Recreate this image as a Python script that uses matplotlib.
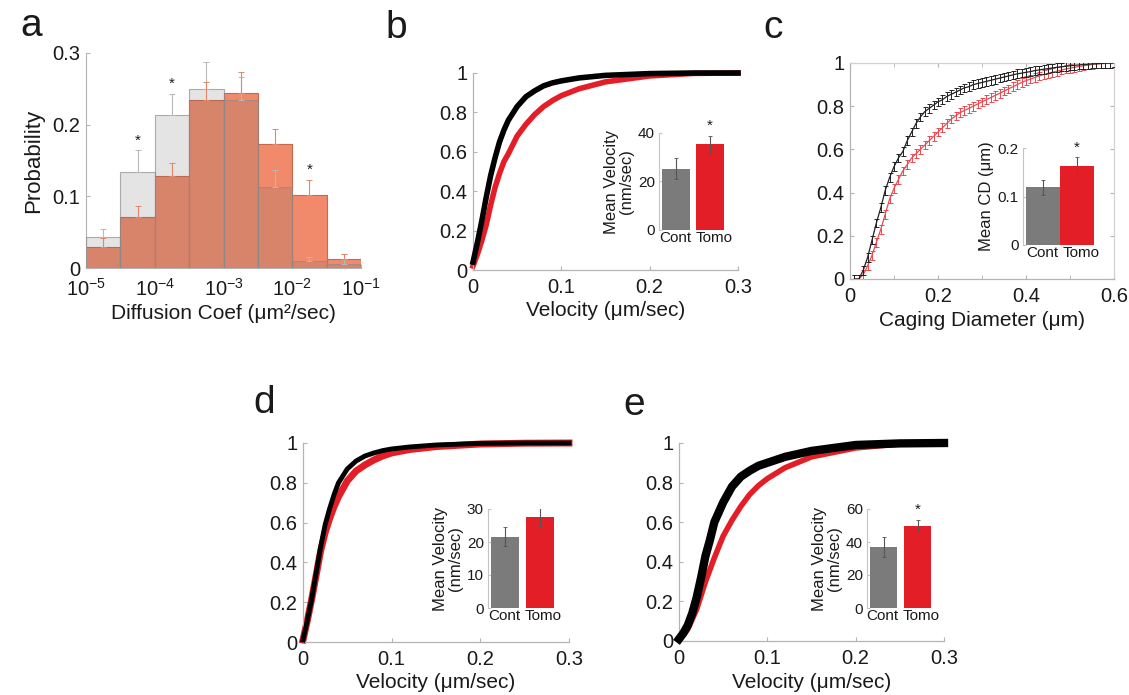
import numpy as np
import matplotlib
matplotlib.use('Agg')
import matplotlib.pyplot as plt

plt.rcParams['font.family'] = ['Liberation Sans', 'DejaVu Sans']
plt.rcParams['mathtext.fontset'] = 'custom'
plt.rcParams['mathtext.rm'] = 'Liberation Sans'
plt.rcParams['mathtext.it'] = 'Liberation Sans:italic'
plt.rcParams['mathtext.bf'] = 'Liberation Sans:bold'

# ---------------- data ----------------
# panel a: histogram of diffusion coefficients (half-decade bins)
a_bin_exp = [-5, -4.5, -4, -3.5, -3, -2.5, -2, -1.5, -1]
a_cont = [0.043, 0.134, 0.213, 0.250, 0.235, 0.113, 0.010, 0.006]
a_cont_err = [0.011, 0.030, 0.030, 0.038, 0.031, 0.024, 0.006, 0.006]
a_tomo = [0.030, 0.071, 0.129, 0.235, 0.244, 0.173, 0.102, 0.013]
a_tomo_err = [0.012, 0.016, 0.017, 0.025, 0.030, 0.021, 0.021, 0.007]
a_star = [False, True, True, False, False, False, True, False]
a_xtick_exp = [-5, -4, -3, -2, -1]

# velocity CDFs (panels b, d, e)
vel_x = [0, 0.005, 0.01, 0.015, 0.02, 0.025, 0.03, 0.035, 0.04, 0.05,
         0.06, 0.07, 0.08, 0.09, 0.1, 0.12, 0.15, 0.2, 0.25, 0.3]
b_cont = [0.04, 0.14, 0.25, 0.37, 0.48, 0.57, 0.65, 0.71, 0.76, 0.83,
          0.88, 0.91, 0.935, 0.95, 0.96, 0.975, 0.988, 0.997, 1.0, 1.0]
b_tomo = [0.02, 0.08, 0.15, 0.23, 0.33, 0.42, 0.49, 0.55, 0.59, 0.68,
          0.74, 0.79, 0.83, 0.86, 0.885, 0.92, 0.955, 0.985, 0.998, 1.0]
d_cont = [0.01, 0.11, 0.22, 0.35, 0.48, 0.59, 0.67, 0.74, 0.80, 0.87,
          0.91, 0.935, 0.95, 0.962, 0.97, 0.98, 0.99, 0.998, 1.0, 1.0]
d_tomo = [0.01, 0.11, 0.22, 0.34, 0.46, 0.55, 0.62, 0.68, 0.73, 0.81,
          0.86, 0.89, 0.915, 0.935, 0.95, 0.967, 0.982, 0.995, 0.999, 1.0]
e_cont = [0.01, 0.04, 0.08, 0.14, 0.22, 0.32, 0.43, 0.51, 0.60, 0.70,
          0.78, 0.83, 0.86, 0.885, 0.90, 0.93, 0.96, 0.99, 0.998, 1.0]
e_tomo = [0.01, 0.03, 0.06, 0.11, 0.16, 0.23, 0.30, 0.36, 0.42, 0.53,
          0.61, 0.68, 0.74, 0.785, 0.82, 0.875, 0.93, 0.975, 0.995, 1.0]

# caging diameter CDF (panel c)
cd_x = [0.01, 0.02, 0.03, 0.04, 0.05, 0.06, 0.07, 0.08, 0.09, 0.10,
        0.11, 0.12, 0.13, 0.14, 0.15, 0.16, 0.17, 0.18, 0.19, 0.20,
        0.21, 0.22, 0.23, 0.24, 0.25, 0.26, 0.27, 0.28, 0.29, 0.30,
        0.31, 0.32, 0.33, 0.34, 0.35, 0.36, 0.37, 0.38, 0.39, 0.40,
        0.41, 0.42, 0.43, 0.44, 0.45, 0.46, 0.47, 0.48, 0.49, 0.50,
        0.51, 0.52, 0.53, 0.54, 0.55, 0.56, 0.57, 0.58, 0.59, 0.60]
c_cont = [0.0, 0.0, 0.04, 0.10, 0.18, 0.26, 0.33, 0.41, 0.47, 0.52,
          0.56, 0.59, 0.64, 0.68, 0.72, 0.75, 0.775, 0.79, 0.805, 0.82,
          0.83, 0.845, 0.855, 0.865, 0.875, 0.885, 0.89, 0.90, 0.905, 0.91,
          0.915, 0.92, 0.925, 0.93, 0.935, 0.94, 0.945, 0.95, 0.953, 0.957,
          0.96, 0.965, 0.968, 0.971, 0.974, 0.977, 0.98, 0.982, 0.985, 0.987,
          0.989, 0.991, 0.993, 0.994, 0.996, 0.997, 0.998, 0.999, 0.999, 1.0]
c_tomo = [0.0, 0.0, 0.02, 0.06, 0.11, 0.17, 0.23, 0.30, 0.37, 0.42,
          0.46, 0.50, 0.53, 0.56, 0.58, 0.60, 0.62, 0.64, 0.66, 0.68,
          0.70, 0.72, 0.74, 0.755, 0.77, 0.78, 0.79, 0.80, 0.81, 0.82,
          0.83, 0.84, 0.85, 0.86, 0.87, 0.88, 0.89, 0.90, 0.91, 0.918,
          0.926, 0.933, 0.94, 0.946, 0.952, 0.957, 0.962, 0.967, 0.972, 0.976,
          0.98, 0.984, 0.987, 0.99, 0.993, 0.995, 0.997, 0.998, 0.999, 1.0]
c_err = 0.02

# inset bar charts
groups = ['Cont', 'Tomo']
b_bar = [25.3, 35.4]
b_bar_err = [4.2, 3.5]
c_bar = [0.119, 0.163]
c_bar_err = [0.015, 0.018]
d_bar = [21.6, 27.6]
d_bar_err = [2.8, 2.7]
e_bar = [36.8, 50.0]
e_bar_err = [6.0, 3.5]

# ---------------- style ----------------
W, H = 1129, 695
fig = plt.figure(figsize=(W / 100, H / 100), dpi=100)

SPINE = '#b4b4b4'
TXT = '#1a1a1a'
BLACK = '#000000'
RED = '#e41e26'
GREY_BAR = '#7b7b7b'
TICK_FS = 14.5
LABEL_FS = 15


def px_axes(l, r, t, b):
    return fig.add_axes([l / W, 1 - b / H, (r - l) / W, (b - t) / H])


def style_main(ax, box=False):
    for s in ['top', 'right']:
        ax.spines[s].set_visible(box)
    for s in ax.spines.values():
        s.set_color('#d2d2d2')
        s.set_linewidth(0.9)
    ax.spines['left'].set_color(SPINE)
    ax.spines['bottom'].set_color(SPINE)
    ax.tick_params(direction='in', length=3, color=SPINE, labelcolor=TXT,
                   labelsize=TICK_FS, pad=4, top=box, right=box)
    ax.tick_params(axis='x', pad=6)


def fmt(v):
    return ('%g' % v)


def cdf_panel(ax, x, y1, y2, lw1, lw2):
    ax.plot(x, y1, color=BLACK, lw=lw1, clip_on=False, zorder=3)
    ax.plot(x, y2, color=RED, lw=lw2, clip_on=False, zorder=2)
    ax.set_xlim(0, 0.3)
    ax.set_ylim(0, 1)
    xt = [0, 0.1, 0.2, 0.3]
    yt = [0, 0.2, 0.4, 0.6, 0.8, 1]
    ax.set_xticks(xt)
    ax.set_xticklabels([fmt(v) for v in xt])
    ax.set_yticks(yt)
    ax.set_yticklabels([fmt(v) for v in yt])
    ax.set_xlabel('Velocity (μm/sec)', fontsize=LABEL_FS, color=TXT,
                  labelpad=3)
    style_main(ax)


def inset(rect_px, vals, errs, ymax, yticks, width, star, ylabel):
    l, r, t, b = rect_px
    ax = px_axes(l, r, t, b)
    pos = [1, 2]
    ax.bar(pos, vals, width=width, color=[GREY_BAR, RED], edgecolor='none',
           zorder=2)
    ax.errorbar(pos, vals, yerr=errs, fmt='none', ecolor='#555555',
                elinewidth=0.8, capsize=1.5, capthick=0.6, zorder=3)
    if star:
        ax.text(2, vals[1] + errs[1] + ymax * 0.03, '*', ha='center',
                va='bottom', fontsize=11, color=TXT)
    ax.set_xlim(1 - width / 2 - 0.1, 2 + width / 2)
    ax.set_ylim(0, ymax)
    ax.set_xticks([])
    mid = 1.5
    ax.annotate(groups[0], xy=(mid, 0), xycoords=('data', 'axes fraction'),
                xytext=(-1.5, -1), textcoords='offset points', ha='right',
                va='top', fontsize=11, color=TXT)
    ax.annotate(groups[1], xy=(mid, 0), xycoords=('data', 'axes fraction'),
                xytext=(1.5, -1), textcoords='offset points', ha='left',
                va='top', fontsize=11, color=TXT)
    ax.set_yticks(yticks)
    ax.set_yticklabels([fmt(v) for v in yticks])
    for s in ['top', 'right', 'bottom']:
        ax.spines[s].set_visible(False)
    ax.spines['left'].set_color('#c4c4c4')
    ax.spines['left'].set_linewidth(0.8)
    ax.tick_params(axis='y', direction='in', length=2, color='#c4c4c4',
                   labelsize=11, labelcolor=TXT, pad=3)
    ax.set_ylabel(ylabel, fontsize=12, color=TXT, labelpad=3,
                  linespacing=0.95)
    ax.patch.set_alpha(0)
    return ax


# ---------------- panel a ----------------
axa = px_axes(86, 361, 53, 268)
edges = [10.0 ** e for e in a_bin_exp]
lefts = edges[:-1]
widths = [edges[i + 1] - edges[i] for i in range(len(edges) - 1)]
centers = [10.0 ** ((a_bin_exp[i] + a_bin_exp[i + 1]) / 2)
           for i in range(len(edges) - 1)]
axa.bar(lefts, a_tomo, width=widths, align='edge', color='#f08a6a',
        edgecolor='#c8694e', linewidth=0.8, zorder=2)
axa.bar(lefts, a_cont, width=widths, align='edge',
        color=(0.43, 0.43, 0.43, 0.18), edgecolor=(0.55, 0.55, 0.55, 0.7),
        linewidth=0.8, zorder=3)
axa.errorbar(centers, a_cont, yerr=[[0] * len(a_cont), a_cont_err],
             fmt='none', ecolor='#b9b9b9', elinewidth=0.8, capsize=2,
             capthick=0.7, zorder=4)
axa.errorbar(centers, a_tomo, yerr=[[0] * len(a_tomo), a_tomo_err],
             fmt='none', ecolor='#e2876a', elinewidth=0.8, capsize=2,
             capthick=0.7, zorder=4)
for i, s in enumerate(a_star):
    if s:
        top = max(a_cont[i] + a_cont_err[i], a_tomo[i] + a_tomo_err[i])
        axa.text(centers[i], top + 0.004, '*', ha='center', va='bottom',
                 fontsize=11, color=TXT)
axa.set_xscale('log')
axa.set_xlim(1e-5, 1e-1)
axa.set_ylim(0, 0.3)
axa.set_xticks([10.0 ** e for e in a_xtick_exp])
axa.set_xticklabels([r'$10^{%d}$' % e for e in a_xtick_exp])
axa.xaxis.set_minor_locator(matplotlib.ticker.NullLocator())
yt = [0, 0.1, 0.2, 0.3]
axa.set_yticks(yt)
axa.set_yticklabels([fmt(v) for v in yt])
for s in ['top', 'right']:
    axa.spines[s].set_visible(False)
axa.spines['left'].set_color(SPINE)
axa.spines['bottom'].set_color(SPINE)
axa.tick_params(direction='in', length=3, color=SPINE, labelcolor=TXT,
                labelsize=TICK_FS, pad=4)
axa.tick_params(axis='x', pad=7)
axa.set_ylabel('Probability', fontsize=16, color=TXT, labelpad=6)
axa.set_xlabel('Diffusion Coef (μm²/sec)', fontsize=LABEL_FS, color=TXT,
               labelpad=3)

# ---------------- panel b ----------------
axb = px_axes(473, 738, 73, 270)
cdf_panel(axb, vel_x, b_cont, b_tomo, 4.0, 4.0)
inset((659, 724, 133, 230), b_bar, b_bar_err, 40, [0, 20, 40], 0.83, True,
      'Mean Velocity\n(nm/sec)')

# ---------------- panel c ----------------
axc = px_axes(850, 1114, 63, 279)
axc.errorbar(cd_x, c_tomo, yerr=c_err, color='#ea4a50', lw=0.9,
             elinewidth=0.7, capsize=1.8, capthick=0.7, zorder=2)
axc.errorbar(cd_x, c_cont, yerr=c_err, color='#222222', lw=0.9,
             elinewidth=0.7, capsize=1.8, capthick=0.7, zorder=3)
axc.set_xlim(0, 0.6)
axc.set_ylim(0, 1)
xt = [0, 0.2, 0.4, 0.6]
axc.set_xticks(xt)
axc.set_xticklabels([fmt(v) for v in xt])
axc.set_xticks([0.1, 0.3, 0.5], minor=True)
yt = [0, 0.2, 0.4, 0.6, 0.8, 1]
axc.set_yticks(yt)
axc.set_yticklabels([fmt(v) for v in yt])
style_main(axc, box=True)
axc.tick_params(which='minor', direction='in', length=3, color=SPINE,
                top=True)
axc.set_xlabel('Caging Diameter (μm)', fontsize=LABEL_FS, color=TXT,
               labelpad=3)
inset((1023, 1094, 148, 245), c_bar, c_bar_err, 0.2, [0, 0.1, 0.2], 1.0,
      True, 'Mean CD (μm)')

# ---------------- panel d ----------------
axd = px_axes(303, 569, 443, 642)
cdf_panel(axd, vel_x, d_cont, d_tomo, 3.5, 5.0)
inset((488, 554, 509, 608), d_bar, d_bar_err, 30, [0, 10, 20, 30], 0.81,
      False, 'Mean Velocity\n(nm/sec)')

# ---------------- panel e ----------------
axe = px_axes(679, 944, 443, 641)
cdf_panel(axe, vel_x, e_cont, e_tomo, 6.0, 4.0)
inset((867, 931, 509, 608), e_bar, e_bar_err, 60, [0, 20, 40, 60], 0.8,
      True, 'Mean Velocity\n(nm/sec)')

# ---------------- panel letters ----------------
for letter, (x, y) in {'a': (20, 36), 'b': (385, 38), 'c': (763, 38),
                       'd': (253, 413), 'e': (623, 415)}.items():
    fig.text(x / W, 1 - y / H, letter, fontsize=28, color=TXT,
             ha='left', va='baseline')

fig.savefig('out.png', dpi=100)
